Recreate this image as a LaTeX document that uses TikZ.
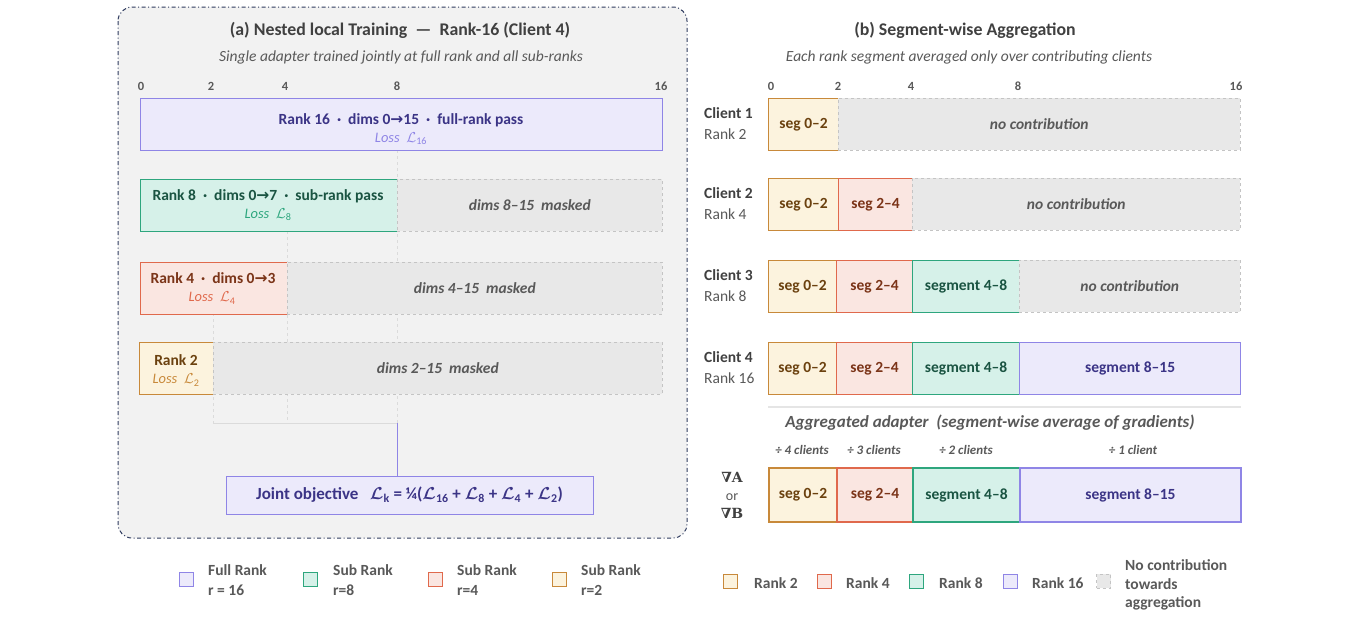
\documentclass[tikz,border=0pt]{standalone}
\usepackage{amsmath}
\usepackage{fontspec}
\setmainfont{Carlito}
\newfontfamily\symfont{DejaVu Sans}
\newfontfamily\nablafont{DejaVu Serif}
\usepackage{xcolor}
\usetikzlibrary{positioning}

\definecolor{pfill}{HTML}{ECEAFB}
\definecolor{pdraw}{HTML}{8F85E6}
\definecolor{ptext}{HTML}{3B3486}
\definecolor{gfill}{HTML}{D6F1E9}
\definecolor{gdraw}{HTML}{2EA67E}
\definecolor{gtext}{HTML}{1A5442}
\definecolor{rfill}{HTML}{FAE6E1}
\definecolor{rdraw}{HTML}{E0694C}
\definecolor{rtext}{HTML}{7B3418}
\definecolor{ofill}{HTML}{FCF3DE}
\definecolor{odraw}{HTML}{C8893A}
\definecolor{otext}{HTML}{6B410F}
\definecolor{mfill}{HTML}{E8E8E8}
\definecolor{mdraw}{HTML}{C4C4C4}
\definecolor{mtext}{HTML}{595959}
\definecolor{ttlgray}{HTML}{404040}
\definecolor{panelbg}{HTML}{F2F2F2}
\definecolor{paneldraw}{HTML}{2E3A5E}

\newcommand{\arr}{{\symfont\bfseries →}}
\newcommand{\Ls}[1]{$\mathcal{L}_{\text{\upshape #1}}$}

\begin{document}
\begin{tikzpicture}[x=1pt,y=-1pt,
  every node/.style={inner sep=0pt},
  panel/.style={draw=paneldraw, fill=panelbg, line width=1pt, dash pattern=on 4pt off 2.5pt on 1pt off 2.5pt, rounded corners=14pt},
  bar/.style={draw, line width=1.2pt, minimum height=52pt, anchor=north west},
  pbar/.style={bar, fill=pfill, draw=pdraw, text=ptext},
  gbar/.style={bar, fill=gfill, draw=gdraw, text=gtext},
  rbar/.style={bar, fill=rfill, draw=rdraw, text=rtext},
  obar/.style={bar, fill=ofill, draw=odraw, text=otext},
  mbar/.style={bar, fill=mfill, draw=mdraw, line width=0.6pt, dashed, text=mtext, mtxt},
  aggbar/.style={line width=2pt, minimum height=54pt},
  ttl/.style={font=\fontsize{17.8}{21}\selectfont\bfseries, text=ttlgray},
  subttl/.style={font=\fontsize{15.5}{18}\selectfont\itshape, text=mtext},
  tick/.style={font=\fontsize{12.5}{14}\selectfont\bfseries, text=mtext},
  btxt/.style={font=\fontsize{15.5}{18}\selectfont\bfseries},
  losstxt/.style={font=\fontsize{14.5}{17}\selectfont\itshape},
  mtxt/.style={font=\fontsize{15.5}{18}\selectfont\bfseries\itshape},
  small/.style={font=\fontsize{13}{15}\selectfont\bfseries\itshape, text=mtext},
  client/.style={font=\fontsize{15.5}{21}\selectfont, text=mtext, align=left, anchor=west},
  grid/.style={draw=gray!28, line width=0.6pt},
  legbox/.style={draw, line width=1pt, minimum size=14pt},
  legtxt/.style={font=\fontsize{15.5}{20}\selectfont\bfseries, text=mtext, align=left, anchor=west}]

\useasboundingbox[fill=white] (0,0) rectangle (1365,630);

% ---------------- (a) nested local training ----------------
\draw[panel] (118,7) rectangle (687,538);
\node[ttl] (ta) at (400,30) {(a) Nested local Training \ —\ \ Rank-16 (Client 4)};
\node[subttl] (sa) at (401,57) {Single adapter trained jointly at full rank and all sub-ranks};
\node[tick] (ta0) at (141,86) {0};
\node[tick] (ta2) at (211,86) {2};
\node[tick] (ta4) at (285,86) {4};
\node[tick] (ta8) at (397,86) {8};
\node[tick] (ta16) at (661,86) {16};

% guide lines towards the joint objective
\coordinate (g8) at (397,150);
\coordinate (g4) at (287,231);
\coordinate (g2) at (213,313);
\coordinate (jn) at (397,423);
\draw[grid, dashed] (g8) -- (jn);
\draw[grid, dashed] (g4) -- (g4 |- jn);
\draw[grid, dashed] (g2) -- (g2 |- jn);
\draw[grid] (g2 |- jn) -- (jn);

\node[pbar, minimum width=522pt] (r16) at (140,98) {};
\node[btxt, text=ptext] (r16t) at (401,120) {Rank 16 \ · \ dims 0\arr15 \ · \ full-rank pass};
\node[losstxt, text=pdraw] (r16l) at (401,139) {Loss \ \Ls{16}};

\node[gbar, minimum width=257pt] (r8) at (140,179) {};
\node[mbar, minimum width=265pt] (m8) at (397,179) {dims 8–15 \ masked};
\node[btxt, text=gtext] (r8t) at (268,196) {Rank 8 \ · \ dims 0\arr7 \ · \ sub-rank pass};
\node[losstxt, text=gdraw] (r8l) at (268,215) {Loss \ \Ls{8}};

\node[rbar, minimum width=147pt] (r4) at (140,262) {};
\node[mbar, minimum width=375pt] (m4) at (287,262) {dims 4–15 \ masked};
\node[btxt, text=rtext] (r4t) at (213,278) {Rank 4 \ · \ dims 0\arr3};
\node[losstxt, text=rdraw] (r4l) at (212,298) {Loss \ \Ls{4}};

\node[obar, minimum width=74pt] (r2) at (139,342) {};
\node[mbar, minimum width=449pt] (m2) at (213,342) {dims 2–15 \ masked};
\node[btxt, text=otext] (r2t) at (176,360) {Rank 2};
\node[losstxt, text=odraw] (r2l) at (176,380) {Loss \ \Ls{2}};

\node[draw=pdraw, fill=pfill, line width=1pt, minimum width=367pt, minimum height=38pt,
  font=\fontsize{17}{20}\selectfont\bfseries\boldmath, text=ptext] (jo) at (409.5,495)
  {Joint objective \ \ \Ls{k} = ¼(\Ls{16} + \Ls{8} + \Ls{4} + \Ls{2})};
\draw[draw=pdraw, line width=1pt] (jn) -- (jn |- jo.north);

% legend (a)
\node[legbox, draw=pdraw, fill=pfill] (la1) at (186.5,579) {};
\node[legtxt] (la1t) at (208,580) {Full Rank\\r = 16};
\node[legbox, draw=gdraw, fill=gfill] (la2) at (310.5,579) {};
\node[legtxt] (la2t) at (333,580) {Sub Rank\\r=8};
\node[legbox, draw=rdraw, fill=rfill] (la3) at (435,579) {};
\node[legtxt] (la3t) at (457,580) {Sub Rank\\r=4};
\node[legbox, draw=odraw, fill=ofill] (la4) at (559.5,579) {};
\node[legtxt] (la4t) at (581,580) {Sub Rank\\r=2};

% ---------------- (b) segment-wise aggregation ----------------
\node[ttl] (tb) at (965,30) {(b) Segment-wise Aggregation};
\node[subttl] (sb) at (969,57) {Each rank segment averaged only over contributing clients};
\node[tick] (tb0) at (771,86) {0};
\node[tick] (tb2) at (838,86) {2};
\node[tick] (tb4) at (911,86) {4};
\node[tick] (tb8) at (1018,86) {8};
\node[tick] (tb16) at (1236,86) {16};

\node[client] (cl1) at (704,124) {\textbf{\color{ttlgray}Client 1}\\Rank 2};
\node[obar, btxt, minimum width=70pt] (c1a) at (768,98) {seg 0–2};
\node[mbar, minimum width=402pt] (c1n) at (838,98) {no contribution};

\node[client] (cl2) at (704,204) {\textbf{\color{ttlgray}Client 2}\\Rank 4};
\node[obar, btxt, minimum width=70pt] (c2a) at (768,178) {seg 0–2};
\node[rbar, btxt, minimum width=74pt] (c2b) at (838,178) {seg 2–4};
\node[mbar, minimum width=328pt] (c2n) at (912,178) {no contribution};

\node[client] (cl3) at (704,286) {\textbf{\color{ttlgray}Client 3}\\Rank 8};
\node[obar, btxt, minimum width=68pt] (c3a) at (768,260) {seg 0–2};
\node[rbar, btxt, minimum width=76pt] (c3b) at (836,260) {seg 2–4};
\node[gbar, btxt, minimum width=107pt] (c3c) at (912,260) {segment 4–8};
\node[mbar, minimum width=221pt] (c3n) at (1019,260) {no contribution};

\node[client] (cl4) at (704,368) {\textbf{\color{ttlgray}Client 4}\\Rank 16};
\node[obar, btxt, minimum width=68pt] (c4a) at (768,342) {seg 0–2};
\node[rbar, btxt, minimum width=76pt] (c4b) at (836,342) {seg 2–4};
\node[gbar, btxt, minimum width=107pt] (c4c) at (912,342) {segment 4–8};
\node[pbar, btxt, minimum width=221pt] (c4d) at (1019,342) {segment 8–15};

\draw[draw=gray!20, line width=1.5pt] ([yshift=-12pt]c4a.south west) -- ([yshift=-12pt]c4d.south east);
\node[mtxt, font=\fontsize{17}{20}\selectfont\bfseries\itshape, text=mtext] (agt) at (990,423) {Aggregated adapter \ (segment-wise average of gradients)};

\node[small] (d4) at (802,450) {÷ 4 clients};
\node[small] (d3) at (874,450) {÷ 3 clients};
\node[small] (d2) at (966,450) {÷ 2 clients};
\node[small] (d1) at (1133,450) {÷ 1 client};

\node[font=\fontsize{14}{18}\selectfont, text=mtext, align=center] (nab) at (732,495)
  {{\nablafont\bfseries\color{ttlgray}∇A}\\or\\{\nablafont\bfseries\color{ttlgray}∇B}};
\node[obar, btxt, aggbar, minimum width=68pt] (ag1) at (768,467) {seg 0–2};
\node[rbar, btxt, aggbar, minimum width=76pt] (ag2) at (836,467) {seg 2–4};
\node[gbar, btxt, aggbar, minimum width=107pt] (ag3) at (912,467) {segment 4–8};
\node[pbar, btxt, aggbar, minimum width=221pt] (ag4) at (1019,467) {segment 8–15};

% legend (b)
\node[legbox, draw=odraw, fill=ofill] (lb1) at (730.5,581) {};
\node[legtxt] (lb1t) at (754,583) {Rank 2};
\node[legbox, draw=rdraw, fill=rfill] (lb2) at (824,581) {};
\node[legtxt] (lb2t) at (846,583) {Rank 4};
\node[legbox, draw=gdraw, fill=gfill] (lb3) at (916.5,581) {};
\node[legtxt] (lb3t) at (939,583) {Rank 8};
\node[legbox, draw=pdraw, fill=pfill] (lb4) at (1010.5,581) {};
\node[legtxt] (lb4t) at (1032,583) {Rank 16};
\node[legbox, draw=mdraw, fill=mfill, dashed, line width=0.6pt] (lb5) at (1103.5,581) {};
\node[legtxt, font=\fontsize{15.5}{18.5}\selectfont\bfseries] (lb5t) at (1125,585) {No contribution\\towards\\aggregation};
\end{tikzpicture}
\end{document}
